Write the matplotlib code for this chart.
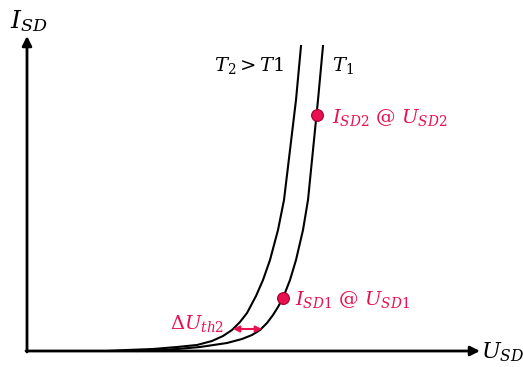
import matplotlib.pyplot as plt
import numpy as np

plt.rcParams['mathtext.fontset'] = 'dejavuserif'
plt.rcParams['font.family'] = 'DejaVu Serif'

# diode forward characteristics I_SD(U_SD), arbitrary units
u_t2 = [80, 100, 126, 150, 170, 185, 196, 205, 213, 220, 229, 236, 243, 251, 257, 263, 269, 274]
i_t2 = [0, 1, 2, 4, 6, 10, 15, 21, 29, 38, 55, 71, 91, 121, 151, 201, 251, 305]

u_t1 = [110, 133, 150, 173, 200, 215, 225, 233, 240, 246, 251, 256, 263, 269, 276, 281, 286, 291, 296]
i_t1 = [0, 1, 2, 4, 8, 12, 16, 21, 28, 36, 44, 53, 71, 91, 121, 151, 201, 251, 305]

# operating points on T1
p1 = (256, 53)
p2 = (289.5, 236)
# threshold shift measured at this current
i_shift = 22
u_shift = (206, 235)

red = '#e8104f'

fig = plt.figure(figsize=(5.23, 3.67), dpi=100)
ax = fig.add_axes([0, 0, 1, 1])
ax.set_xlim(-27, 496)
ax.set_ylim(-16, 351)
ax.axis('off')

# axes with arrow heads
ax.annotate('', xy=(453, 0), xytext=(-1, 0),
            arrowprops=dict(arrowstyle='-|>', color='black', lw=2, mutation_scale=14,
                            shrinkA=0, shrinkB=0))
ax.annotate('', xy=(0, 315), xytext=(0, -1),
            arrowprops=dict(arrowstyle='-|>', color='black', lw=2, mutation_scale=14,
                            shrinkA=0, shrinkB=0))
ax.text(-17, 330, r'$I_{SD}$', fontsize=18, va='center', ha='left')
ax.text(454, -1, r'$U_{SD}$', fontsize=16, va='center', ha='left')

ax.plot(u_t2, i_t2, color='black', lw=1.5, solid_joinstyle='round')
ax.plot(u_t1, i_t1, color='black', lw=1.5, solid_joinstyle='round')

ax.text(187, 285, r'$T_2 > T1$', fontsize=14, va='center', ha='left')
ax.text(305, 285, r'$T_1$', fontsize=14, va='center', ha='left')

ax.plot(*p1, 'o', ms=8.5, color=red, mec='#a00030', mew=0.8)
ax.plot(*p2, 'o', ms=8.5, color=red, mec='#a00030', mew=0.8)
ax.text(p1[0] + 12, p1[1] - 1, r'$I_{SD1}$ @ $U_{SD1}$', fontsize=14, color=red,
        va='center', ha='left')
ax.text(p2[0] + 15, p2[1] - 2, r'$I_{SD2}$ @ $U_{SD2}$', fontsize=14, color=red,
        va='center', ha='left')

ax.annotate('', xy=(u_shift[1], i_shift), xytext=(u_shift[0], i_shift),
            arrowprops=dict(arrowstyle='<|-|>', color=red, lw=1.5, mutation_scale=9,
                            shrinkA=0, shrinkB=0))
ax.text(u_shift[0] - 9, i_shift + 5, r'$\Delta U_{th2}$', fontsize=14, color=red,
        va='center', ha='right')

fig.savefig('out.png', dpi=100)
